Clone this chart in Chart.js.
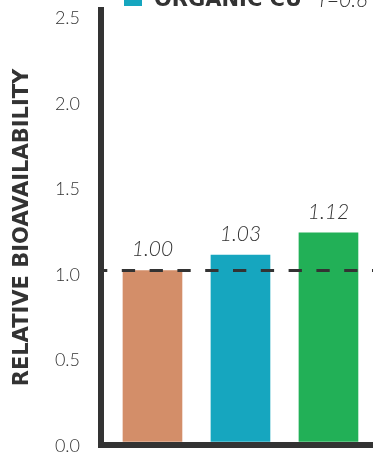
<!DOCTYPE html>
<html>
<head>
<meta charset="utf-8">
<script src="https://cdn.jsdelivr.net/npm/chart.js@4"></script>
<style>
html, body { margin: 0; padding: 0; background: #fff; }
#wrap { width: 373px; height: 453px; }
</style>
</head>
<body>
<div id="wrap"><canvas id="bioChart"></canvas></div>
<script>
// data
const categories = ["Inorganic Cu", "Organic Cu", "Organic Cu + "];
const barValues = [1.00, 1.09, 1.22];
const valueLabels = ["1.00", "1.03", "1.12"];
const barColors = ["#d38e69", "#16a6bf", "#22b057"];
const yTicks = [0, 0.5, 1.0, 1.5, 2.0, 2.5];
const referenceLine = 1.0;
const legendLabel = "ORGANIC CU";
const legendNote = "r=0.6";
const yTitle = "RELATIVE BIOAVAILABILITY";

const ink = "#333333";

// dashed reference line, bar labels and the clipped legend at the top
const extras = {
  id: "extras",
  afterDatasetsDraw(chart) {
    const ctx = chart.ctx;
    const area = chart.chartArea;
    const y = chart.scales.y.getPixelForValue(referenceLine);
    ctx.save();
    ctx.strokeStyle = ink;
    ctx.lineWidth = 3;
    ctx.setLineDash([13.3, 14.5]);
    ctx.lineDashOffset = 4;
    ctx.beginPath();
    ctx.moveTo(area.left - 3, y);
    ctx.lineTo(area.right, y);
    ctx.stroke();
    ctx.setLineDash([]);

    ctx.fillStyle = ink;
    ctx.font = "italic 300 21px Lato";
    ctx.textAlign = "center";
    ctx.textBaseline = "alphabetic";
    chart.getDatasetMeta(0).data.forEach((bar, i) => {
      ctx.fillText(valueLabels[i], bar.x, bar.y - 14);
    });

    // legend (cut off by the top edge)
    ctx.fillStyle = barColors[1];
    ctx.fillRect(124, -12, 18, 18);
    ctx.fillStyle = ink;
    ctx.textAlign = "left";
    ctx.font = "bold 21px 'DejaVu Sans'";
    ctx.fillText(legendLabel, 154, 6);
    ctx.font = "italic 300 21px Lato";
    ctx.fillText(legendNote, 320, 7);
    ctx.restore();
  }
};

new Chart(document.getElementById("bioChart"), {
  type: "bar",
  data: {
    labels: categories,
    datasets: [{
      data: barValues.map((v, i) => ({ x: i + 1, y: v })),
      backgroundColor: barColors,
      barThickness: 59,
      borderWidth: 0
    }]
  },
  options: {
    responsive: true,
    maintainAspectRatio: false,
    animation: false,
    layout: { padding: { top: 10, right: 0, bottom: 0, left: 0 } },
    plugins: { legend: { display: false }, tooltip: { enabled: false } },
    scales: {
      x: {
        type: "linear",
        offset: false,
        min: 0.415,
        max: 3.506,
        z: 1,
        grid: { display: false, drawTicks: false, offset: false },
        ticks: { display: false },
        border: { display: true, color: ink, width: 6 },
        afterFit(s) { s.height = 8; s.paddingLeft = 0; s.paddingRight = 0; }
      },
      y: {
        min: -0.0205,
        max: 2.523,
        z: 1,
        afterBuildTicks(s) { s.ticks = yTicks.map(v => ({ value: v })); },
        grid: { display: false, drawTicks: false },
        border: { display: true, color: ink, width: 6 },
        ticks: {
          color: ink,
          padding: 21,
          labelOffset: 4.5,
          font: { family: "Lato", size: 18, weight: "300" },
          callback: v => v.toFixed(1)
        },
        title: {
          display: true,
          text: yTitle,
          color: ink,
          padding: { top: 10, bottom: 0 },
          font: { family: "DejaVu Sans", size: 21, weight: "bold" }
        },
        afterFit(s) { s.width = 101; s.paddingTop = 0; s.paddingBottom = 0; }
      }
    }
  },
  plugins: [extras]
});
</script>
</body>
</html>
